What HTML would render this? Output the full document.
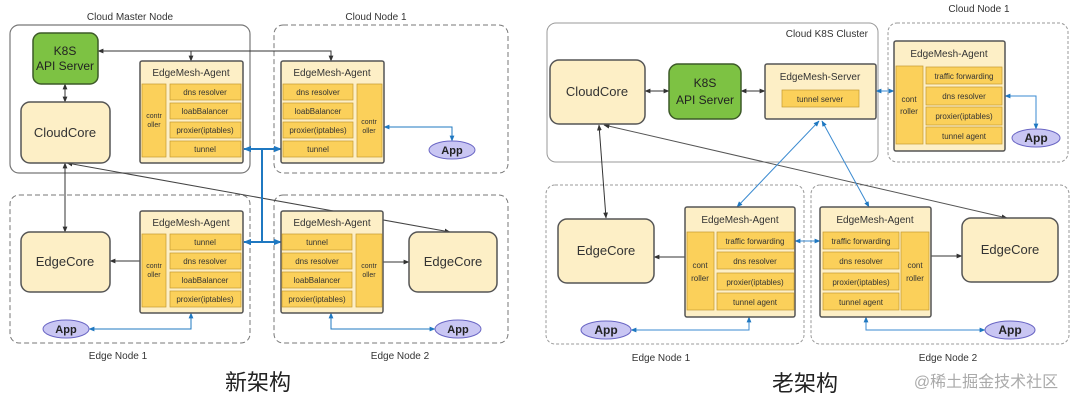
<!DOCTYPE html>
<html><head><meta charset="utf-8"><style>
html,body{margin:0;padding:0;background:#fff;width:1080px;height:403px;overflow:hidden}
svg text{font-family:"Liberation Sans","Noto Sans CJK SC",sans-serif}
</style></head><body>
<svg width="1080" height="403" viewBox="0 0 1080 403" xmlns="http://www.w3.org/2000/svg">
<defs>
<marker id="ak" viewBox="0 0 10 10" refX="9" refY="5" markerWidth="6" markerHeight="6" orient="auto-start-reverse"><path d="M0,1 L10,5 L0,9 z" fill="#333"/></marker>
<marker id="ab" viewBox="0 0 10 10" refX="9" refY="5" markerWidth="6" markerHeight="6" orient="auto-start-reverse"><path d="M0,1 L10,5 L0,9 z" fill="#1f78c1"/></marker>
<marker id="abs" viewBox="0 0 10 10" refX="9" refY="5" markerWidth="4" markerHeight="4" orient="auto-start-reverse"><path d="M0,1 L10,5 L0,9 z" fill="#1f78c1"/></marker>
</defs>
<g font-size="10" fill="#333">
<!-- ===== LEFT ===== -->
<rect x="10" y="25" width="240" height="148" rx="9" fill="none" stroke="#777" stroke-width="1.2"/>
<text x="130" y="20" text-anchor="middle" font-size="10">Cloud Master Node</text>
<rect x="274" y="25" width="234" height="148" rx="9" fill="none" stroke="#777" stroke-dasharray="5,3"/>
<text x="376" y="20" text-anchor="middle" font-size="10">Cloud Node 1</text>
<rect x="10" y="195" width="240" height="148" rx="9" fill="none" stroke="#777" stroke-dasharray="5,3"/>
<rect x="274" y="195" width="234" height="148" rx="9" fill="none" stroke="#777" stroke-dasharray="5,3"/>
<text x="118" y="359" text-anchor="middle">Edge Node  1</text>
<text x="400" y="359" text-anchor="middle">Edge Node 2</text>
<text x="258" y="390" text-anchor="middle" font-size="22" fill="#222">新架构</text>

<line x1="67" y1="163" x2="450" y2="232" stroke="#444" stroke-width="1" marker-start="url(#ak)" marker-end="url(#ak)"/>
<polyline points="98,51 331,51 331,61" fill="none" stroke="#333" marker-start="url(#ak)" marker-end="url(#ak)"/>
<line x1="191" y1="51" x2="191" y2="61" stroke="#333" marker-end="url(#ak)"/>
<line x1="65" y1="84" x2="65" y2="102" stroke="#333" marker-start="url(#ak)" marker-end="url(#ak)"/>
<line x1="65" y1="163" x2="65" y2="232" stroke="#333" marker-start="url(#ak)" marker-end="url(#ak)"/>
<line x1="140" y1="261" x2="110" y2="261" stroke="#333" marker-end="url(#ak)"/>
<line x1="383" y1="262" x2="409" y2="262" stroke="#333" marker-end="url(#ak)"/>
<g stroke="#1f78c1" fill="none" stroke-width="2">
<line x1="262" y1="149" x2="262" y2="242"/>
<line x1="262" y1="149" x2="244" y2="149" marker-end="url(#abs)"/>
<line x1="262" y1="149" x2="281" y2="149" marker-end="url(#abs)"/>
<line x1="262" y1="242" x2="244" y2="242" marker-end="url(#abs)"/>
<line x1="262" y1="242" x2="281" y2="242" marker-end="url(#abs)"/>
</g>
<g stroke="#1f78c1" fill="none" stroke-width="1">
<polyline points="384,127 452,127 452,141" marker-start="url(#ab)" marker-end="url(#ab)"/>
<polyline points="89,329 191,329 191,313" marker-start="url(#ab)" marker-end="url(#ab)"/>
<polyline points="331,313 331,329 435,329" marker-start="url(#ab)" marker-end="url(#ab)"/>
</g>

<rect x="33" y="33" width="65" height="51" rx="8" fill="#7dc243" stroke="#3d5a28" stroke-width="1.5"/>
<text x="65" y="55" text-anchor="middle" font-size="12" fill="#222">K8S</text>
<text x="65" y="70" text-anchor="middle" font-size="12" fill="#222">API Server</text>
<rect x="21" y="102" width="89" height="61" rx="9" fill="#fdefc6" stroke="#555" stroke-width="1.5"/>
<text x="65" y="137" text-anchor="middle" font-size="13">CloudCore</text>
<rect x="21" y="232" width="89" height="60" rx="9" fill="#fdefc6" stroke="#555" stroke-width="1.5"/>
<text x="65" y="266" text-anchor="middle" font-size="13">EdgeCore</text>
<rect x="409" y="232" width="88" height="60" rx="9" fill="#fdefc6" stroke="#555" stroke-width="1.5"/>
<text x="453" y="266" text-anchor="middle" font-size="13">EdgeCore</text>

<g font-size="8">
<rect x="140" y="61" width="103" height="102" rx="2" fill="#fdefc6" stroke="#555" stroke-width="1.5"/>
<text x="191" y="76" text-anchor="middle" font-size="10">EdgeMesh-Agent</text>
<rect x="142" y="84" width="24" height="73" fill="#fbd05a" stroke="#c49a30" stroke-width=".7"/>
<text x="154" y="118" text-anchor="middle" font-size="7">contr</text><text x="154" y="127" text-anchor="middle" font-size="7">oller</text>
<rect x="170" y="84" width="71" height="16" fill="#fbd05a" stroke="#c49a30" stroke-width=".7"/><text x="205" y="95" text-anchor="middle">dns resolver</text>
<rect x="170" y="103" width="71" height="16" fill="#fbd05a" stroke="#c49a30" stroke-width=".7"/><text x="205" y="114" text-anchor="middle">loabBalancer</text>
<rect x="170" y="122" width="71" height="16" fill="#fbd05a" stroke="#c49a30" stroke-width=".7"/><text x="205" y="133" text-anchor="middle">proxier(iptables)</text>
<rect x="170" y="141" width="71" height="16" fill="#fbd05a" stroke="#c49a30" stroke-width=".7"/><text x="205" y="152" text-anchor="middle">tunnel</text>

<rect x="281" y="61" width="103" height="102" rx="2" fill="#fdefc6" stroke="#555" stroke-width="1.5"/>
<text x="332" y="76" text-anchor="middle" font-size="10">EdgeMesh-Agent</text>
<rect x="357" y="84" width="25" height="73" fill="#fbd05a" stroke="#c49a30" stroke-width=".7"/>
<text x="369" y="124" text-anchor="middle" font-size="7">contr</text><text x="369" y="133" text-anchor="middle" font-size="7">oller</text>
<rect x="283" y="84" width="70" height="16" fill="#fbd05a" stroke="#c49a30" stroke-width=".7"/><text x="318" y="95" text-anchor="middle">dns resolver</text>
<rect x="283" y="103" width="70" height="16" fill="#fbd05a" stroke="#c49a30" stroke-width=".7"/><text x="318" y="114" text-anchor="middle">loabBalancer</text>
<rect x="283" y="122" width="70" height="16" fill="#fbd05a" stroke="#c49a30" stroke-width=".7"/><text x="318" y="133" text-anchor="middle">proxier(iptables)</text>
<rect x="283" y="141" width="70" height="16" fill="#fbd05a" stroke="#c49a30" stroke-width=".7"/><text x="318" y="152" text-anchor="middle">tunnel</text>

<rect x="140" y="211" width="103" height="102" rx="2" fill="#fdefc6" stroke="#555" stroke-width="1.5"/>
<text x="191" y="226" text-anchor="middle" font-size="10">EdgeMesh-Agent</text>
<rect x="142" y="234" width="24" height="73" fill="#fbd05a" stroke="#c49a30" stroke-width=".7"/>
<text x="154" y="268" text-anchor="middle" font-size="7">contr</text><text x="154" y="277" text-anchor="middle" font-size="7">oller</text>
<rect x="170" y="234" width="71" height="16" fill="#fbd05a" stroke="#c49a30" stroke-width=".7"/><text x="205" y="245" text-anchor="middle">tunnel</text>
<rect x="170" y="253" width="71" height="16" fill="#fbd05a" stroke="#c49a30" stroke-width=".7"/><text x="205" y="264" text-anchor="middle">dns resolver</text>
<rect x="170" y="272" width="71" height="16" fill="#fbd05a" stroke="#c49a30" stroke-width=".7"/><text x="205" y="283" text-anchor="middle">loabBalancer</text>
<rect x="170" y="291" width="71" height="16" fill="#fbd05a" stroke="#c49a30" stroke-width=".7"/><text x="205" y="302" text-anchor="middle">proxier(iptables)</text>

<rect x="281" y="211" width="102" height="102" rx="2" fill="#fdefc6" stroke="#555" stroke-width="1.5"/>
<text x="332" y="226" text-anchor="middle" font-size="10">EdgeMesh-Agent</text>
<rect x="356" y="234" width="26" height="73" fill="#fbd05a" stroke="#c49a30" stroke-width=".7"/>
<text x="369" y="268" text-anchor="middle" font-size="7">contr</text><text x="369" y="277" text-anchor="middle" font-size="7">oller</text>
<rect x="282" y="234" width="70" height="16" fill="#fbd05a" stroke="#c49a30" stroke-width=".7"/><text x="317" y="245" text-anchor="middle">tunnel</text>
<rect x="282" y="253" width="70" height="16" fill="#fbd05a" stroke="#c49a30" stroke-width=".7"/><text x="317" y="264" text-anchor="middle">dns resolver</text>
<rect x="282" y="272" width="70" height="16" fill="#fbd05a" stroke="#c49a30" stroke-width=".7"/><text x="317" y="283" text-anchor="middle">loabBalancer</text>
<rect x="282" y="291" width="70" height="16" fill="#fbd05a" stroke="#c49a30" stroke-width=".7"/><text x="317" y="302" text-anchor="middle">proxier(iptables)</text>
</g>
<g font-size="11" font-weight="bold" fill="#222">
<ellipse cx="452" cy="150" rx="23" ry="9" fill="#c9c6f3" stroke="#6a66c4"/><text x="452" y="154" text-anchor="middle">App</text>
<ellipse cx="66" cy="329" rx="23" ry="9" fill="#c9c6f3" stroke="#6a66c4"/><text x="66" y="333" text-anchor="middle">App</text>
<ellipse cx="458" cy="329" rx="23" ry="9" fill="#c9c6f3" stroke="#6a66c4"/><text x="458" y="333" text-anchor="middle">App</text>
</g>

<!-- ===== RIGHT ===== -->
<rect x="547" y="23" width="331" height="139" rx="9" fill="none" stroke="#999" stroke-width="1"/>
<text x="868" y="37" text-anchor="end">Cloud K8S Cluster</text>
<rect x="888" y="23" width="180" height="139" rx="9" fill="none" stroke="#999" stroke-dasharray="3,2"/>
<text x="979" y="12" text-anchor="middle">Cloud Node 1</text>
<rect x="546" y="185" width="258" height="159" rx="9" fill="none" stroke="#999" stroke-dasharray="3,2"/>
<rect x="811" y="185" width="258" height="159" rx="9" fill="none" stroke="#999" stroke-dasharray="3,2"/>
<text x="661" y="361" text-anchor="middle">Edge Node  1</text>
<text x="948" y="361" text-anchor="middle">Edge Node 2</text>
<text x="805" y="391" text-anchor="middle" font-size="22" fill="#222">老架构</text>
<text x="986" y="387" text-anchor="middle" font-size="16" fill="#aaa">@稀土掘金技术社区</text>

<line x1="604" y1="125" x2="1007" y2="218" stroke="#555" marker-start="url(#ak)" marker-end="url(#ak)"/>
<line x1="599" y1="125" x2="606" y2="218" stroke="#333" marker-start="url(#ak)" marker-end="url(#ak)"/>
<line x1="645" y1="91" x2="669" y2="91" stroke="#333" marker-start="url(#ak)" marker-end="url(#ak)"/>
<line x1="741" y1="91" x2="765" y2="91" stroke="#333" marker-start="url(#ak)" marker-end="url(#ak)"/>
<line x1="685" y1="257" x2="654" y2="257" stroke="#333" marker-end="url(#ak)"/>
<line x1="931" y1="256" x2="962" y2="256" stroke="#333" marker-end="url(#ak)"/>
<g stroke="#3a8ad0" fill="none" stroke-width="1">
<line x1="876" y1="91" x2="894" y2="91" marker-start="url(#ab)" marker-end="url(#ab)"/>
<polyline points="1005,96 1036,96 1036,129" marker-start="url(#ab)" marker-end="url(#ab)"/>
<line x1="819" y1="121" x2="737" y2="207" marker-start="url(#ab)" marker-end="url(#ab)"/>
<line x1="822" y1="121" x2="869" y2="207" marker-start="url(#ab)" marker-end="url(#ab)"/>
<line x1="795" y1="241" x2="820" y2="241" marker-start="url(#ab)" marker-end="url(#ab)"/>
<polyline points="631,330 749,330 749,317" marker-start="url(#ab)" marker-end="url(#ab)"/>
<polyline points="866,317 866,330 985,330" marker-start="url(#ab)" marker-end="url(#ab)"/>
</g>

<rect x="550" y="60" width="95" height="64" rx="9" fill="#fdefc6" stroke="#555" stroke-width="1.5"/>
<text x="597" y="96" text-anchor="middle" font-size="13">CloudCore</text>
<rect x="669" y="64" width="72" height="55" rx="9" fill="#7dc243" stroke="#3d5a28" stroke-width="1.5"/>
<text x="705" y="87" text-anchor="middle" font-size="12" fill="#222">K8S</text>
<text x="705" y="104" text-anchor="middle" font-size="12" fill="#222">API Server</text>
<rect x="765" y="64" width="111" height="55" rx="2" fill="#fdefc6" stroke="#555" stroke-width="1.5"/>
<text x="820" y="80" text-anchor="middle" font-size="10">EdgeMesh-Server</text>
<rect x="782" y="90" width="77" height="17" fill="#fbd05a" stroke="#c49a30" stroke-width=".7"/>
<text x="820" y="102" text-anchor="middle" font-size="8">tunnel server</text>
<rect x="558" y="219" width="96" height="64" rx="9" fill="#fdefc6" stroke="#555" stroke-width="1.5"/>
<text x="606" y="255" text-anchor="middle" font-size="13">EdgeCore</text>
<rect x="962" y="218" width="96" height="64" rx="9" fill="#fdefc6" stroke="#555" stroke-width="1.5"/>
<text x="1010" y="254" text-anchor="middle" font-size="13">EdgeCore</text>

<g font-size="8">
<rect x="894" y="41" width="111" height="110" rx="2" fill="#fdefc6" stroke="#555" stroke-width="1.5"/>
<text x="949" y="57" text-anchor="middle" font-size="10">EdgeMesh-Agent</text>
<rect x="896" y="66" width="27" height="78" fill="#fbd05a" stroke="#c49a30" stroke-width=".7"/>
<text x="909" y="102" text-anchor="middle">cont</text><text x="909" y="114" text-anchor="middle">roller</text>
<rect x="926" y="67" width="76" height="17" fill="#fbd05a" stroke="#c49a30" stroke-width=".7"/><text x="964" y="79" text-anchor="middle">traffic forwarding</text>
<rect x="926" y="87" width="76" height="18" fill="#fbd05a" stroke="#c49a30" stroke-width=".7"/><text x="964" y="99" text-anchor="middle">dns resolver</text>
<rect x="926" y="107" width="76" height="18" fill="#fbd05a" stroke="#c49a30" stroke-width=".7"/><text x="964" y="119" text-anchor="middle">proxier(iptables)</text>
<rect x="926" y="127" width="76" height="17" fill="#fbd05a" stroke="#c49a30" stroke-width=".7"/><text x="964" y="139" text-anchor="middle">tunnel agent</text>

<rect x="685" y="207" width="110" height="110" rx="2" fill="#fdefc6" stroke="#555" stroke-width="1.5"/>
<text x="740" y="223" text-anchor="middle" font-size="10">EdgeMesh-Agent</text>
<rect x="687" y="232" width="27" height="78" fill="#fbd05a" stroke="#c49a30" stroke-width=".7"/>
<text x="700" y="268" text-anchor="middle">cont</text><text x="700" y="281" text-anchor="middle">roller</text>
<rect x="717" y="232" width="77" height="17" fill="#fbd05a" stroke="#c49a30" stroke-width=".7"/><text x="755" y="244" text-anchor="middle">traffic forwarding</text>
<rect x="717" y="252" width="77" height="17" fill="#fbd05a" stroke="#c49a30" stroke-width=".7"/><text x="755" y="264" text-anchor="middle">dns resolver</text>
<rect x="717" y="273" width="77" height="17" fill="#fbd05a" stroke="#c49a30" stroke-width=".7"/><text x="755" y="285" text-anchor="middle">proxier(iptables)</text>
<rect x="717" y="293" width="77" height="17" fill="#fbd05a" stroke="#c49a30" stroke-width=".7"/><text x="755" y="305" text-anchor="middle">tunnel agent</text>

<rect x="820" y="207" width="111" height="110" rx="2" fill="#fdefc6" stroke="#555" stroke-width="1.5"/>
<text x="875" y="223" text-anchor="middle" font-size="10">EdgeMesh-Agent</text>
<rect x="901" y="232" width="28" height="78" fill="#fbd05a" stroke="#c49a30" stroke-width=".7"/>
<text x="915" y="268" text-anchor="middle">cont</text><text x="915" y="281" text-anchor="middle">roller</text>
<rect x="823" y="232" width="76" height="17" fill="#fbd05a" stroke="#c49a30" stroke-width=".7"/><text x="861" y="244" text-anchor="middle">traffic forwarding</text>
<rect x="823" y="252" width="76" height="17" fill="#fbd05a" stroke="#c49a30" stroke-width=".7"/><text x="861" y="264" text-anchor="middle">dns resolver</text>
<rect x="823" y="273" width="76" height="17" fill="#fbd05a" stroke="#c49a30" stroke-width=".7"/><text x="861" y="285" text-anchor="middle">proxier(iptables)</text>
<rect x="823" y="293" width="76" height="17" fill="#fbd05a" stroke="#c49a30" stroke-width=".7"/><text x="861" y="305" text-anchor="middle">tunnel agent</text>
</g>
<g font-size="12" font-weight="bold" fill="#222">
<ellipse cx="1036" cy="138" rx="24" ry="9" fill="#c9c6f3" stroke="#6a66c4"/><text x="1036" y="142" text-anchor="middle">App</text>
<ellipse cx="606" cy="330" rx="25" ry="9" fill="#c9c6f3" stroke="#6a66c4"/><text x="606" y="334" text-anchor="middle">App</text>
<ellipse cx="1010" cy="330" rx="25" ry="9" fill="#c9c6f3" stroke="#6a66c4"/><text x="1010" y="334" text-anchor="middle">App</text>
</g>
</g>
</svg>
</body></html>
